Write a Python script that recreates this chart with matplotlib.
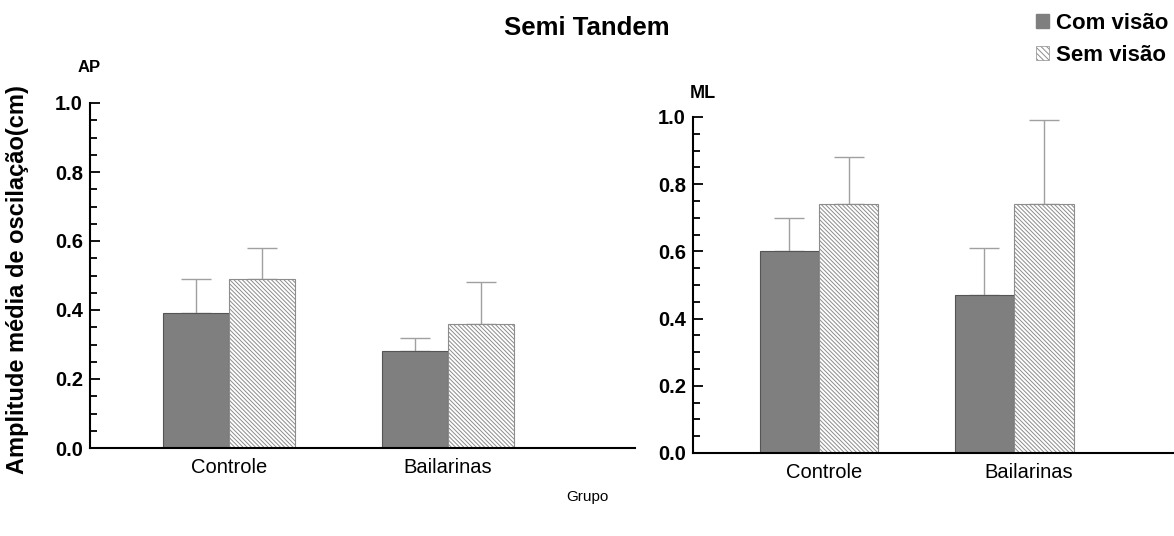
import numpy as np
import matplotlib
matplotlib.use("Agg")
import matplotlib.pyplot as plt
from matplotlib.ticker import MultipleLocator, FormatStrFormatter
from matplotlib.patches import Patch

plt.rcParams['font.family'] = ['Liberation Sans', 'DejaVu Sans']
plt.rcParams['hatch.linewidth'] = 0.7

# data
grupos = ['Controle', 'Bailarinas']
series = ['Com visão', 'Sem visão']

ap_com = [0.39, 0.28]
ap_com_dp = [0.10, 0.04]
ap_sem = [0.49, 0.36]
ap_sem_dp = [0.09, 0.12]

ml_com = [0.60, 0.47]
ml_com_dp = [0.10, 0.14]
ml_sem = [0.74, 0.74]
ml_sem_dp = [0.14, 0.25]

solid_c = '#7f7f7f'
hatch_c = '#8c8c8c'
err_c = '#a0a0a0'
HATCH = '\\' * 8

fig = plt.figure(figsize=(11.74, 5.36), dpi=100)
ax1 = fig.add_axes([90/1174, 1-448/536, 545/1174, 345/536])
ax2 = fig.add_axes([693/1174, 1-453/536, 481/1174, 336/536])


def draw(ax, com, com_dp, sem, sem_dp, w, xlim, lab_shift, lab_pad):
    x = np.arange(len(grupos))
    ax.bar(x - w/2, com, w, color=solid_c, edgecolor='#555555', linewidth=0.8, zorder=2)
    ax.bar(x + w/2, sem, w, color='white', edgecolor=hatch_c, hatch=HATCH,
           linewidth=0.8, zorder=2)
    ax.errorbar(x - w/2, com, yerr=[np.zeros(len(com)), com_dp], fmt='none',
                ecolor=err_c, elinewidth=1, capsize=11, capthick=1, zorder=1)
    ax.errorbar(x + w/2, sem, yerr=[np.zeros(len(sem)), sem_dp], fmt='none',
                ecolor=err_c, elinewidth=1, capsize=11, capthick=1, zorder=1)
    ax.set_ylim(0, 1.0)
    ax.set_xlim(*xlim)
    ax.yaxis.set_major_locator(MultipleLocator(0.2))
    ax.yaxis.set_minor_locator(MultipleLocator(0.05))
    ax.yaxis.set_major_formatter(FormatStrFormatter('%.1f'))
    for s in ['top', 'right']:
        ax.spines[s].set_visible(False)
    ax.spines['left'].set_linewidth(1.5)
    ax.spines['bottom'].set_linewidth(1.5)
    ax.tick_params(axis='y', which='major', direction='in', length=7, width=1.3,
                   labelsize=14.5, pad=5)
    ax.tick_params(axis='y', which='minor', direction='in', length=5, width=1.3)
    ax.set_xticks(x + np.array(lab_shift))
    ax.set_xticklabels(grupos, fontsize=14.5)
    ax.tick_params(axis='x', length=0, pad=lab_pad)
    for t in ax.get_yticklabels():
        t.set_fontweight('bold')


draw(ax1, ap_com, ap_com_dp, ap_sem, ap_sem_dp, 0.30, (-0.635, 1.854), [0, 0], 7)
draw(ax2, ml_com, ml_com_dp, ml_sem, ml_sem_dp, 0.305, (-0.646, 1.82), [0.025, 0.075], 7)

fig.text(78/1174, 1-67/536, 'AP', fontsize=12, fontweight='bold', va='center', ha='left')
fig.text(690/1174, 1-93/536, 'ML', fontsize=13, fontweight='bold', va='center', ha='left')
fig.text(587/1174, 1-28/536, 'Semi Tandem', fontsize=18.5, fontweight='bold',
         ha='center', va='center')
fig.text(18/1174, 1-280/536, 'Amplitude média de oscilação(cm)', fontsize=17,
         fontweight='bold', rotation=90, ha='center', va='center')
fig.text(587/1174, 1-497/536, 'Grupo', fontsize=11, ha='center', va='center')

handles = [Patch(facecolor=solid_c, edgecolor=solid_c),
           Patch(facecolor='white', edgecolor=hatch_c, hatch='\\' * 6, linewidth=0.5)]
fig.legend(handles, series, loc='upper left', bbox_to_anchor=(1036/1174, 1-13/536),
           frameon=False, borderpad=0, borderaxespad=0, handlelength=0.6,
           handleheight=0.6, handletextpad=0.3, labelspacing=0.5,
           prop={'size': 16, 'weight': 'bold'})

fig.savefig('out.png', dpi=100)
